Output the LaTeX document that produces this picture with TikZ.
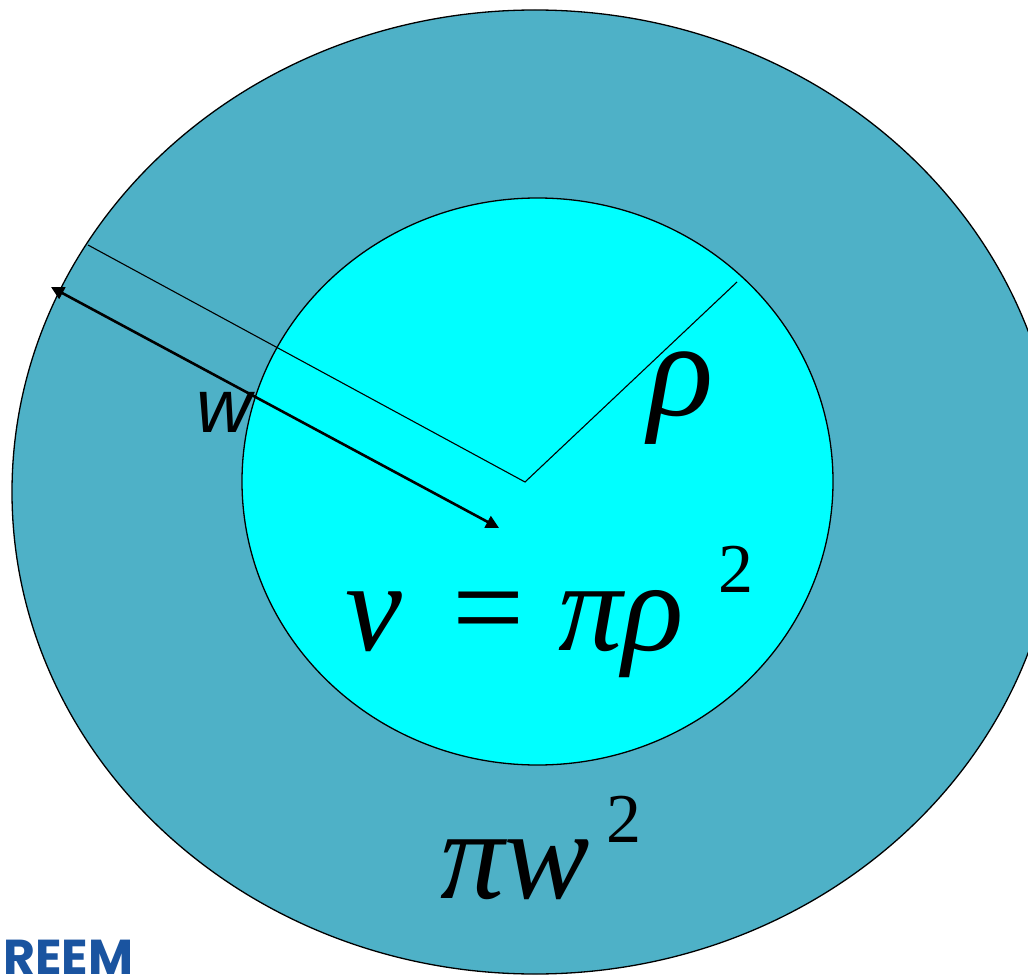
\documentclass[tikz,border=0pt]{standalone}
\usepackage{fontspec}
\setmainfont{Liberation Serif}
\newfontfamily\sansfam{Liberation Sans}
\newfontfamily\reemfont{Poppins}
\usetikzlibrary{arrows.meta}
\definecolor{ringfill}{RGB}{78,177,199}
\definecolor{corefill}{RGB}{0,255,255}
\definecolor{reemblue}{RGB}{26,84,160}
\tikzset{
  shapeline/.style={draw=black, line width=1.3pt},
  guide/.style={draw=black, line width=1.1pt},
  dimarrow/.style={draw=black, line width=2.6pt, {Triangle[length=13pt,width=13pt]}-{Triangle[length=13pt,width=13pt]}},
  bigmath/.style={anchor=base west, inner sep=0pt, font=\fontsize{128}{128}\selectfont\itshape},
  supmath/.style={anchor=base west, inner sep=0pt, font=\fontsize{70}{70}\selectfont\upshape},
}
\begin{document}
\begin{tikzpicture}[x=1pt,y=-1pt]
\useasboundingbox (0,0) rectangle (1028,976);
\begin{scope}
  \clip (0,0) rectangle (1028,976);
  \fill[white] (0,0) rectangle (1028,976);
  \draw[shapeline, fill=ringfill] (535,492) ellipse [x radius=523pt, y radius=482pt];
  \draw[shapeline, fill=corefill] (537.5,481.5) ellipse [x radius=295.5pt, y radius=283.5pt];
\end{scope}
\coordinate (gA) at (88,245);
\coordinate (gO) at (525,482);
\coordinate (gB) at (737,282);
\draw[guide] (gA) -- (gO) -- (gB);
\coordinate (aL) at (51,287);
\coordinate (aR) at (499,528);
\draw[dimarrow] (aL) -- (aR);
\node[anchor=base west, inner sep=0pt, font=\fontsize{76}{76}\selectfont\sansfam\itshape] (wlab) at (196,432) {w};
\node[anchor=base west, inner sep=0pt, font=\fontsize{136}{136}\selectfont\itshape] (rho) at (648,415) {ρ};
\node[bigmath] (nu) at (345,650) {ν};
\node[anchor=base west, inner sep=0pt, font=\fontsize{128}{128}\selectfont\upshape] (eq) at (452,650) {=};
\node[bigmath] (pirho) at (558,650) {πρ};
\node[supmath] (sqA) at (718,592) {2};
\node[bigmath] (piw) at (440,898) {πw};
\node[supmath] (sqB) at (606,842) {2};
\node[anchor=base west, inner sep=0pt, text depth=0pt, text=reemblue, font=\fontsize{49}{49}\selectfont\reemfont\bfseries] (reem) at (3,974) {REEM};
\end{tikzpicture}
\end{document}
